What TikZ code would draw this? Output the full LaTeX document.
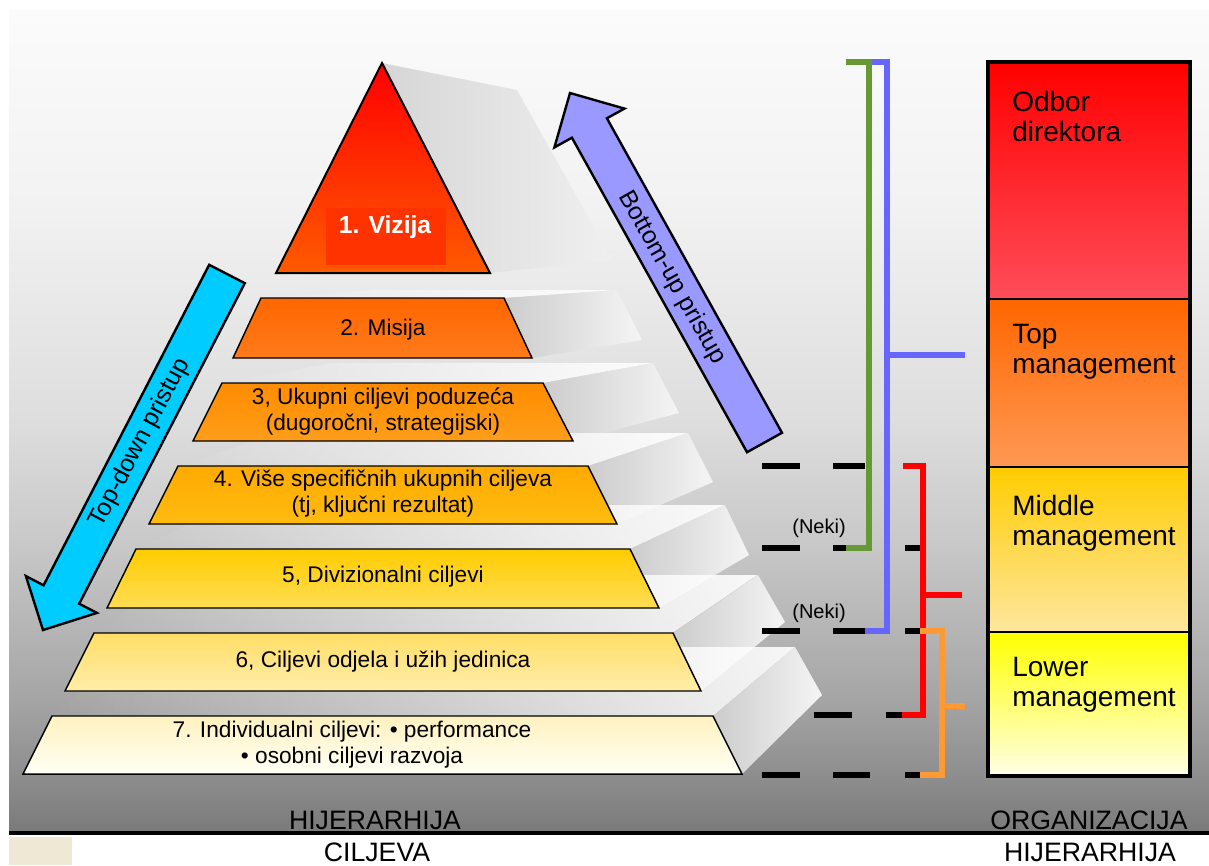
\documentclass[tikz,border=0pt]{standalone}
\usepackage{fontspec}
\setmainfont{Liberation Sans}
\usetikzlibrary{fadings}
\tikzfading[name=fadeR, left color=transparent!100, right color=transparent!0]
\pgfdeclareverticalshading{bgshade}{100bp}{rgb(0bp)=(0.48,0.48,0.48); rgb(25bp)=(0.48,0.48,0.48); rgb(28.6bp)=(0.56,0.56,0.56); rgb(33.2bp)=(0.65,0.65,0.65); rgb(42.9bp)=(0.79,0.79,0.79); rgb(50.2bp)=(0.87,0.87,0.87); rgb(63.5bp)=(0.95,0.95,0.95); rgb(75bp)=(0.985,0.985,0.985); rgb(100bp)=(0.985,0.985,0.985)}
\definecolor{cyanA}{RGB}{0,204,255}
\definecolor{lavA}{RGB}{153,153,255}
\definecolor{grnA}{RGB}{102,153,51}
\definecolor{bluA}{RGB}{102,102,255}
\definecolor{redA}{RGB}{255,0,0}
\definecolor{orA}{RGB}{255,153,51}
\definecolor{vizC}{RGB}{255,51,0}
\definecolor{t1}{RGB}{255,0,0}\definecolor{b1}{RGB}{255,90,0}
\definecolor{t2}{RGB}{255,102,0}\definecolor{b2}{RGB}{255,123,26}
\definecolor{t3}{RGB}{255,140,0}\definecolor{b3}{RGB}{255,158,26}
\definecolor{t4}{RGB}{255,170,0}\definecolor{b4}{RGB}{255,187,17}
\definecolor{t5}{RGB}{255,204,0}\definecolor{b5}{RGB}{255,221,85}
\definecolor{t6}{RGB}{255,221,102}\definecolor{b6}{RGB}{255,238,170}
\definecolor{t7}{RGB}{255,242,192}\definecolor{b7}{RGB}{255,255,245}
\definecolor{s1t}{RGB}{255,0,0}\definecolor{s1b}{RGB}{255,77,90}
\definecolor{s2t}{RGB}{255,102,0}\definecolor{s2b}{RGB}{255,153,85}
\definecolor{s3t}{RGB}{255,204,0}\definecolor{s3b}{RGB}{254,231,160}
\definecolor{s4t}{RGB}{255,255,0}\definecolor{s4b}{RGB}{255,255,230}
\definecolor{beigeA}{RGB}{238,232,212}
\begin{document}
\begin{tikzpicture}[x=0.75pt,y=-0.75pt,
  lay/.style={draw=black, line width=1.1pt, line join=miter},
  sideface/.style={left color=black!20, right color=white!96!black},
  topface/.style={fill=white, path fading=fadeR, fill opacity=0.9},
  lbl/.style={font=\fontsize{17}{19.5}\selectfont, align=center, inner sep=0pt},
  boxtxt/.style={font=\fontsize{21}{22.5}\selectfont, align=left, inner sep=0pt, anchor=north west},
  bottxt/.style={font=\fontsize{20}{22}\selectfont, inner sep=0pt},
  arrowbody/.style={draw=black, line width=1.8pt, line join=miter},
  arrtxt/.style={font=\fontsize{18.5}{20}\selectfont, inner sep=0pt},
  dashseg/.style={line width=5pt, black},
  brk/.style={line width=4.5pt, line join=miter},
  sect/.style={draw=black, line width=2.2pt}]
\useasboundingbox (0,0) rectangle (1209,865);
\fill[white] (0,0) rectangle (1209,865);
% background
\shade[shading=bgshade] (9,10) rectangle (1209,831);
\draw[line width=3pt] (9,833) -- (1209,833);
\fill[beigeA] (9,837) rectangle (72,865);

% shadows of the pyramid (top to bottom)
\shade[left color=black!16, right color=white!94!black] (382,63) -- (517,90) -- (612,260) -- (490,273) -- cycle;
% layer 2
\path[topface] (261,298) -- (374,290) -- (617,290) -- (504,298) -- cycle;
\shade[sideface] (504,298) -- (617,290) -- (642,340) -- (532,358) -- cycle;
% layer 3
\path[topface] (222,383) -- (332,363) -- (653,363) -- (543,383) -- cycle;
\shade[sideface] (543,383) -- (653,363) -- (679,413) -- (573,441) -- cycle;
% layer 4
\path[topface] (178,466) -- (278,433) -- (688,433) -- (588,466) -- cycle;
\shade[sideface] (588,466) -- (688,433) -- (713,482) -- (617,524) -- cycle;
% layer 5
\path[topface] (136,549) -- (231,505) -- (725,505) -- (630,549) -- cycle;
\shade[sideface] (630,549) -- (725,505) -- (749,555) -- (659,608) -- cycle;
% layer 6
\path[topface] (94,633) -- (179,575) -- (758,575) -- (673,633) -- cycle;
\shade[sideface] (673,633) -- (758,575) -- (785,622) -- (701,691) -- cycle;
% layer 7
\path[topface] (52,716) -- (134,647) -- (795,647) -- (713,716) -- cycle;
\shade[sideface] (713,716) -- (795,647) -- (822,695) -- (742,774) -- cycle;

% pyramid
\path[lay, line width=1.5pt, top color=t1, bottom color=b1] (382,63) -- (490,273) -- (276,273) -- cycle;
\fill[vizC] (326,208) rectangle (446,265);
\node[font=\fontsize{18.5}{20}\selectfont\bfseries, text=white, inner sep=0pt] (viz) at (385,227) {1. Vizija};

\path[lay, top color=t2, bottom color=b2] (261,298) -- (504,298) -- (532,358) -- (233,358) -- cycle;
\node[lbl] (mis) at (383,330) {2. Misija};
\path[lay, top color=t3, bottom color=b3] (222,383) -- (543,383) -- (573,441) -- (193,441) -- cycle;
\node[lbl] (ukup) at (383,411) {3, Ukupni ciljevi poduzeća\\(dugoročni, strategijski)};
\path[lay, top color=t4, bottom color=b4] (178,466) -- (588,466) -- (617,524) -- (149,524) -- cycle;
\node[lbl] (spec) at (383,494) {4. Više specifičnih ukupnih ciljeva\\(tj, ključni rezultat)};
\path[lay, top color=t5, bottom color=b5] (136,549) -- (630,549) -- (659,608) -- (107,608) -- cycle;
\node[lbl] (div) at (383,577) {5, Divizionalni ciljevi};
\path[lay, top color=t6, bottom color=b6] (94,633) -- (673,633) -- (701,691) -- (65,691) -- cycle;
\node[lbl] (odj) at (383,662) {6, Ciljevi odjela i užih jedinica};
\path[lay, top color=t7, bottom color=b7] (52,716) -- (713,716) -- (742,774) -- (23,774) -- cycle;
\node[lbl] (ind) at (352,745) {7. Individualni ciljevi: • performance\\• osobni ciljevi razvoja};

% top-down arrow
\path[arrowbody, fill=cyanA] (209.2,264.8) -- (244.8,283.2) -- (79.2,603.7) -- (96.9,612.9) -- (43,630) -- (25.9,576.1) -- (43.6,585.3) -- cycle;
\node[arrtxt, rotate=62] (td) at (140,443) {Top-down pristup};
% bottom-up arrow
\path[arrowbody, fill=lavA] (747,452.2) -- (782,432.8) -- (606.9,118.3) -- (624.4,108.6) -- (570,93) -- (554.4,147.4) -- (571.9,137.7) -- cycle;
\node[arrtxt, rotate=-60.5] (bu) at (672,278) {Bottom-up pristup};

% dashed level lines
\draw[dashseg] (762,466) -- (800,466) (833,466) -- (865,466);
\draw[dashseg] (762,548) -- (800,548) (833,548) -- (847,548) (905,548) -- (920,548);
\draw[dashseg] (762,631) -- (800,631) (833,631) -- (866,631) (905,631) -- (921,631);
\draw[dashseg] (814,715) -- (852,715) (886,715) -- (903,715);
\draw[dashseg] (762,775) -- (800,775) (833,775) -- (870,775) (905,775) -- (921,775);
\node[font=\fontsize{15}{17}\selectfont, inner sep=0pt] (neki1) at (819,528) {(Neki)};
\node[font=\fontsize{15}{17}\selectfont, inner sep=0pt] (neki2) at (819,613) {(Neki)};

% brackets
\coordinate (gA) at (846,62); \coordinate (gB) at (846,548);
\draw[brk, grnA] (gA) -- (869,62) -- (869,548) -- (gB);
\coordinate (bA) at (872,62); \coordinate (bB) at (865,631); \coordinate (bT) at (965,355);
\draw[brk, bluA] (bA) -- (887,62) -- (887,631) -- (bB);
\draw[brk, bluA] (887,355) -- (bT);
\coordinate (rA) at (903,466); \coordinate (rB) at (902,715); \coordinate (rT) at (962,595);
\draw[brk, redA] (rA) -- (923,466) -- (923,715) -- (rB);
\draw[brk, redA] (923,595) -- (rT);
\coordinate (oA) at (920,631); \coordinate (oB) at (920,775); \coordinate (oT) at (965,706);
\draw[brk, orA] (oA) -- (942,631) -- (942,775) -- (oB);
\draw[brk, orA] (942,706) -- (oT);

% organisation column
\shade[top color=s1t, bottom color=s1b] (988,62) rectangle (1190,299);
\shade[top color=s2t, bottom color=s2b] (988,299) rectangle (1190,467);
\shade[top color=s3t, bottom color=s3b] (988,467) rectangle (1190,632);
\shade[top color=s4t, bottom color=s4b] (988,632) rectangle (1190,776);
\draw[black, line width=1.8pt] (988,299) -- (1190,299) (988,467) -- (1190,467) (988,632) -- (1190,632);
\draw[sect, line width=3pt] (988,62) rectangle (1190,776);
\node[boxtxt] (odbor) at (1012,91) {Odbor\\direktora};
\node[boxtxt] (topm) at (1012,324) {Top\\management};
\node[boxtxt] (midm) at (1012,495) {Middle\\management};
\node[boxtxt] (lowm) at (1012,657) {Lower\\management};

% bottom captions
\node[bottxt] (hc1) at (375,820) {HIJERARHIJA};
\node[bottxt] (hc2) at (377,852) {CILJEVA};
\node[bottxt] (oh1) at (1089,820) {ORGANIZACIJA};
\node[bottxt] (oh2) at (1090,852) {HIJERARHIJA};
\end{tikzpicture}
\end{document}
